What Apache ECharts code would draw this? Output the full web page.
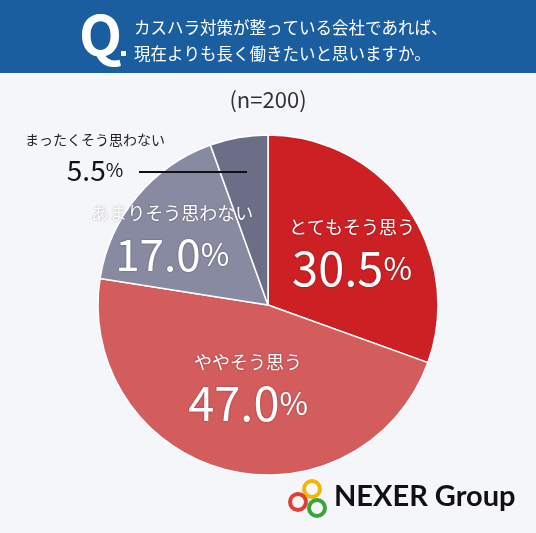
<!DOCTYPE html>
<html>
<head>
<meta charset="utf-8">
<script src="https://cdn.jsdelivr.net/npm/echarts@6/dist/echarts.min.js"></script>
<style>
  html, body { margin: 0; padding: 0; background: #f5f6fa; }
  #main { width: 536px; height: 533px; }
</style>
</head>
<body>
<div id="main"></div>
<script>
// 回答カテゴリと割合(%)
const categories = ['とてもそう思う', 'ややそう思う', 'あまりそう思わない', 'まったくそう思わない'];
const values = [30.5, 47.0, 17.0, 5.5];
const colors = ['#cc2024', '#d35c5d', '#878aa0', '#6b6e86'];

const question = ['カスハラ対策が整っている会社であれば、', '現在よりも長く働きたいと思いますか。'];
const sampleLabel = '(n=200)';

const font = '"Noto Sans CJK JP", "Noto Sans", sans-serif';

let chart = echarts.init(document.getElementById('main'));

let pieData = categories.map(function (name, i) {
  let item = { name: name, value: values[i], itemStyle: { color: colors[i] } };
  if (i === 3) {
    // 小さいスライスは外側にラベル
    item.label = {
      position: 'outside',
      formatter: '{t|{b}}\n{v|{c}}{p|%}',
      textShadowBlur: 0,
      rich: {
        t: { fontSize: 14, color: '#222', fontFamily: font, lineHeight: 26, align: 'center' },
        v: { fontSize: 28, color: '#111', fontFamily: font, fontWeight: 'normal', lineHeight: 34 },
        p: { fontSize: 19, color: '#111', fontFamily: font, lineHeight: 34 }
      }
    };
    item.labelLine = { show: false };
  }
  if (i === 2) {
    item.label = { rich: { v: { fontSize: 44 } } };
  }
  return item;
});

let option = {
  backgroundColor: '#f5f6fa',
  graphic: [
    { type: 'rect', shape: { x: 0, y: 0, width: 536, height: 73 }, style: { fill: '#1b5e9f' } },
    {
      type: 'text', left: 79, top: 7,
      style: { text: 'Q', fill: '#fff', fontSize: 56, fontWeight: 'bold', fontFamily: font }
    },
    { type: 'rect', shape: { x: 121, y: 51, width: 5, height: 5 }, style: { fill: '#fff' } },
    {
      type: 'text', left: 134, top: 15,
      style: { text: question.join('\n'), fill: '#fff', fontSize: 16.5, lineHeight: 26, fontFamily: font }
    },
    {
      type: 'text', left: 'center', top: 89,
      style: { text: sampleLabel, fill: '#333', fontSize: 22, fontFamily: font }
    },
    // 5.5% の引き出し線
    { type: 'line', z: 100, shape: { x1: 139, y1: 172, x2: 247, y2: 172 }, style: { stroke: '#111', lineWidth: 2 } },
    // ロゴ
    { type: 'circle', shape: { cx: 312, cy: 489, r: 8 }, style: { fill: 'none', stroke: '#f2b705', lineWidth: 4 } },
    { type: 'circle', shape: { cx: 298, cy: 502, r: 8 }, style: { fill: 'none', stroke: '#e0402f', lineWidth: 4 } },
    { type: 'circle', shape: { cx: 317, cy: 508, r: 8 }, style: { fill: 'none', stroke: '#3aa53a', lineWidth: 4 } },
    {
      type: 'text', left: 334, top: 482,
      style: { text: 'NEXER Group', fill: '#111', fontSize: 29, fontWeight: 'bold', fontFamily: 'Lato, sans-serif' }
    }
  ],
  series: [{
    type: 'pie',
    center: [268, 305],
    radius: 170,
    startAngle: 90,
    clockwise: true,
    animation: false,
    itemStyle: { borderColor: '#fff', borderWidth: 1.5 },
    label: {
      show: true,
      position: 'inside',
      formatter: function (p) {
        return '{t|' + p.name + '}\n{v|' + p.value.toFixed(1) + '}{p|%}';
      },
      rich: {
        t: { fontSize: 18, color: '#fff', fontFamily: font, lineHeight: 32, align: 'center' },
        v: { fontSize: 47, color: '#fff', fontFamily: font, fontWeight: 'normal', lineHeight: 50 },
        p: { fontSize: 31, color: '#fff', fontFamily: font, lineHeight: 50 }
      },
      textShadowColor: 'rgba(0,0,0,0.35)',
      textShadowBlur: 2
    },
    labelLayout: function (params) {
      let i = params.dataIndex;
      if (i === 0) return { dx: 12, dy: -2 };
      if (i === 1) return { dx: 2, dy: -3 };
      if (i === 2) return { dx: -28, dy: -11 };
      if (i === 3) return { x: 95, y: 157, align: 'center', verticalAlign: 'middle' };
    },
    data: pieData
  }]
};

chart.setOption(option);
</script>
</body>
</html>
